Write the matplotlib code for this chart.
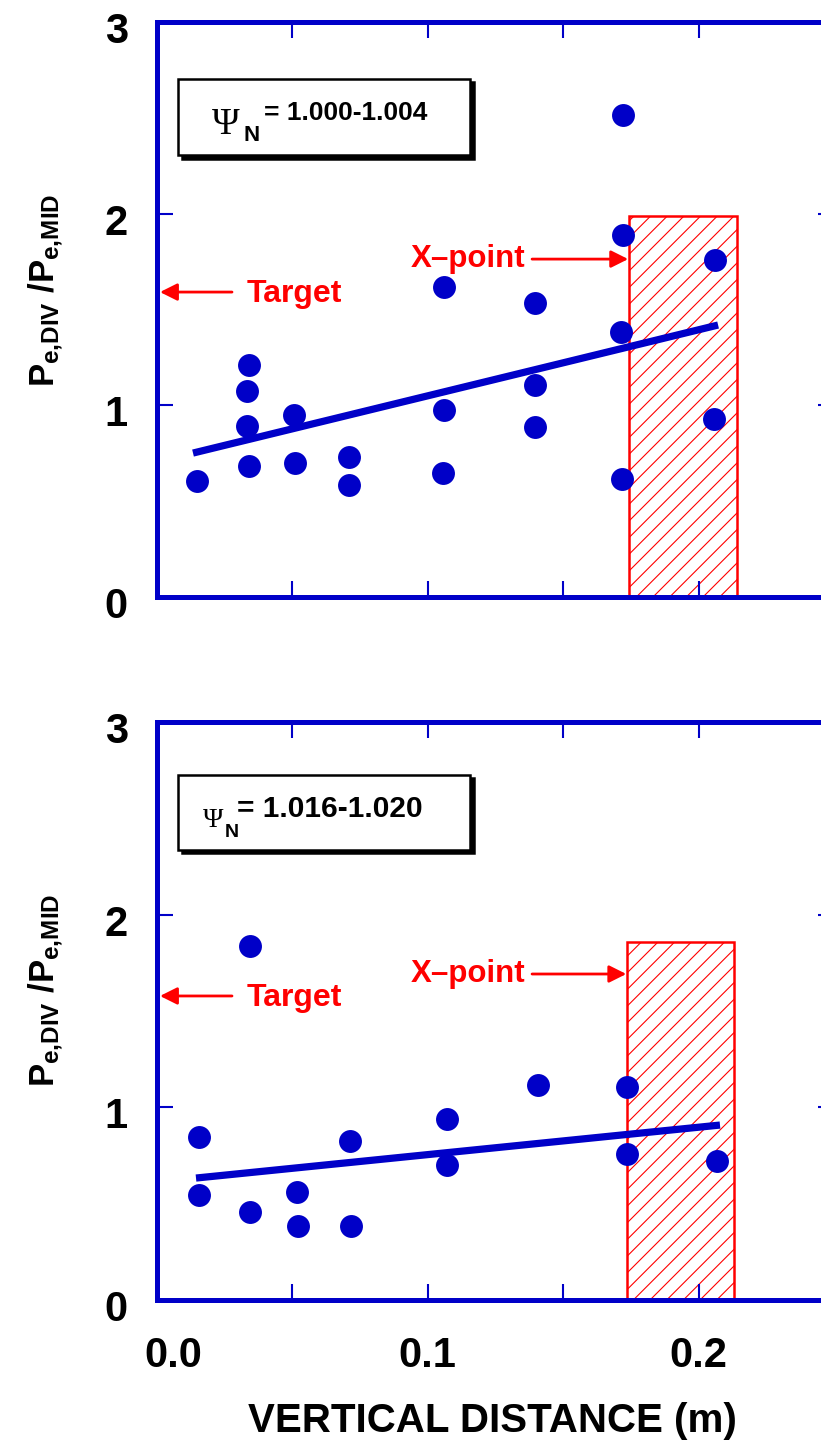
import matplotlib
matplotlib.use('Agg')
import matplotlib.pyplot as plt
from matplotlib.patches import Rectangle
from matplotlib.transforms import ScaledTranslation, offset_copy

# top panel, psi_N = 1.000-1.004
x_top = [0.0147, 0.0339, 0.0334, 0.0334, 0.0339, 0.0506, 0.0511, 0.0708, 0.0708,
         0.1061, 0.1061, 0.1057, 0.1397, 0.1397, 0.1397,
         0.1722, 0.1719, 0.1713, 0.1717, 0.2061, 0.2057]
y_top = [0.607, 1.210, 1.075, 0.894, 0.685, 0.948, 0.698, 0.732, 0.583,
         1.616, 0.976, 0.649, 1.532, 1.108, 0.885,
         2.515, 1.889, 1.381, 0.616, 1.757, 0.927]
fit_top_x = [0.0133, 0.2072]
fit_top_y = [0.751, 1.419]

# bottom panel, psi_N = 1.016-1.020
x_bot = [0.0156, 0.0156, 0.0343, 0.0343, 0.0516, 0.0521, 0.0713, 0.0718,
         0.1072, 0.1072, 0.1407, 0.1737, 0.1737, 0.2067]
y_bot = [0.848, 0.543, 1.837, 0.458, 0.562, 0.384, 0.825, 0.384,
         0.938, 0.701, 1.118, 1.104, 0.758, 0.723]
fit_bot_x = [0.0144, 0.2079]
fit_bot_y = [0.633, 0.908]

# x-point region (x0, x1, height)
xpt_top = [0.1743, 0.2142, 1.99]
xpt_bot = [0.1736, 0.2131, 1.858]

psi_labels = ['1.000-1.004', '1.016-1.020']

font = 'Liberation Sans'
plt.rcParams['font.family'] = [font, 'DejaVu Sans']
plt.rcParams['font.weight'] = 'bold'
plt.rcParams['mathtext.fontset'] = 'custom'
plt.rcParams['mathtext.rm'] = font + ':bold'
plt.rcParams['mathtext.it'] = font + ':bold'
plt.rcParams['mathtext.bf'] = font + ':bold'
plt.rcParams['hatch.linewidth'] = 0.8

blue = '#0000C8'
red = '#FF0000'

fig = plt.figure(figsize=(8.21, 14.43), dpi=100)
W, H = 821, 1443
ax_top = fig.add_axes([157 / W, (H - 597) / H, 677 / W, 575 / H])
ax_bot = fig.add_axes([157 / W, (H - 1300) / H, 677 / W, 578 / H])


def setup(ax, show_x):
    ax.set_xlim(0, 0.25)
    ax.set_ylim(0, 3)
    for s in ax.spines.values():
        s.set_color(blue)
        s.set_linewidth(3.6)
    ax.set_xticks([0, 0.05, 0.1, 0.15, 0.2, 0.25])
    ax.set_xticklabels(['0.0', '', '0.1', '', '0.2', ''] if show_x else [])
    ax.set_yticks([0, 1, 2, 3])
    ax.set_yticklabels(['0', '1', '2', '3'])
    ax.tick_params(direction='in', length=11.5, width=1.5, color=blue,
                   top=True, right=True, labelsize=30)
    ax.tick_params(axis='y', pad=21)
    ax.tick_params(axis='x', pad=26)
    for lab in ax.get_yticklabels():
        lab.set_transform(lab.get_transform() + ScaledTranslation(0, -4 / 72, fig.dpi_scale_trans))
    if show_x:
        lab = ax.get_xticklabels()[0]
        lab.set_transform(lab.get_transform() + ScaledTranslation(12 / 72, 0, fig.dpi_scale_trans))


def panel(ax, xs, ys, fx, fy, xpt, box, psi_pos, target_y, xpoint_y):
    # hatched x-point region
    ax.add_patch(Rectangle((xpt[0], 0), xpt[1] - xpt[0], xpt[2], facecolor='none',
                           edgecolor=red, hatch='//', lw=1.8, zorder=1))
    ax.plot(xs, ys, 'o', color=blue, markersize=16.5, markeredgewidth=0, zorder=3)
    ax.plot(fx, fy, '-', color=blue, lw=5.2, solid_capstyle='butt', zorder=2)

    # box with shadow
    x0, x1, y0, y1 = box
    shadow_tr = offset_copy(ax.transData, fig=fig, x=3.5, y=-3.5, units='dots')
    ax.add_patch(Rectangle((x0, y0), x1 - x0, y1 - y0, transform=shadow_tr,
                           facecolor='black', edgecolor='black', lw=1.8, zorder=4))
    ax.add_patch(Rectangle((x0, y0), x1 - x0, y1 - y0, facecolor='white',
                           edgecolor='black', lw=1.8, zorder=5))
    (px, py, psz), (nx, ny, nsz), (tx, ty, tsz, txt) = psi_pos
    ax.text(px, py, '\u03a8', family=['Liberation Serif', 'DejaVu Serif'], fontweight='normal',
            fontsize=psz, va='baseline', ha='left', zorder=6)
    ax.text(nx, ny, 'N', fontsize=nsz, va='baseline', ha='left', zorder=6)
    ax.text(tx, ty, '= ' + txt, fontsize=tsz, va='baseline', ha='left', zorder=6)

    # annotations
    ta_y, tt_y = target_y
    ax.annotate('', xy=(0.0011, ta_y), xytext=(0.0277, ta_y),
                arrowprops=dict(arrowstyle='-|>', color=red, lw=2, mutation_scale=26,
                                shrinkA=0, shrinkB=0), zorder=6)
    ax.text(0.0332, tt_y, 'Target', color=red, fontsize=23, va='baseline', ha='left')
    xa_y, xt_y = xpoint_y
    ax.annotate('', xy=(xpt[0] - 0.0003, xa_y), xytext=(0.1385, xa_y),
                arrowprops=dict(arrowstyle='-|>', color=red, lw=2, mutation_scale=26,
                                shrinkA=0, shrinkB=0), zorder=6)
    ax.text(0.1359, xt_y, 'X\u2013point', color=red, fontsize=22.5, va='baseline', ha='right')


setup(ax_top, False)
setup(ax_bot, True)

panel(ax_top, x_top, y_top, fit_top_x, fit_top_y, xpt_top,
      (0.0078, 0.1156, 2.306, 2.703),
      ((0.0204, 2.416, 27), (0.0318, 2.379, 16), (0.0395, 2.489, 19, psi_labels[0])),
      (1.591, 1.539), (1.763, 1.722))
panel(ax_bot, x_bot, y_bot, fit_bot_x, fit_bot_y, xpt_bot,
      (0.0078, 0.1156, 2.336, 2.725),
      ((0.0168, 2.455, 20), (0.0252, 2.403, 14), (0.0296, 2.507, 21.5, psi_labels[1])),
      (1.578, 1.526), (1.692, 1.650))

ylab = r'$P_{e{,}DIV}$ $/P_{e{,}MID}$'
fig.text(46 / W, (H - 290) / H, ylab, rotation=90, ha='center', va='center', fontsize=25)
fig.text(46 / W, (H - 990) / H, ylab, rotation=90, ha='center', va='center', fontsize=25)
fig.text(492 / W, (H - 1432) / H, 'VERTICAL DISTANCE (m)', ha='center', va='baseline', fontsize=29)

fig.savefig('out.png', dpi=100)
